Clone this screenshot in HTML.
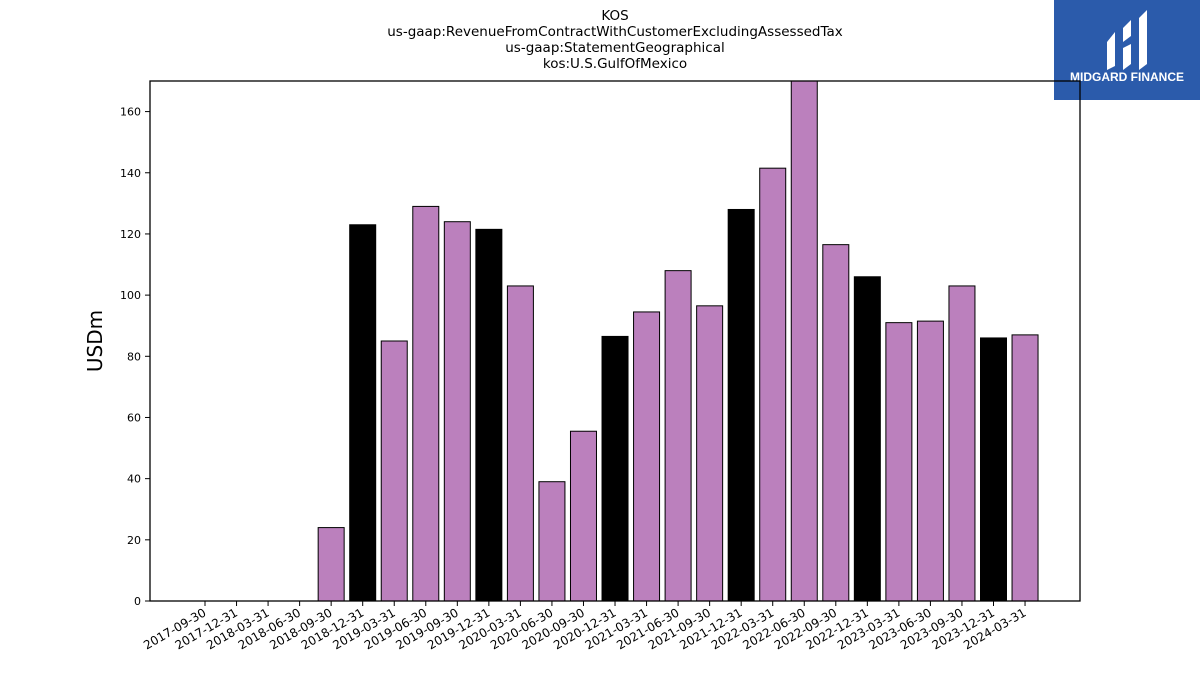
<!DOCTYPE html>
<html><head><meta charset="utf-8"><style>
body{margin:0;background:#fff;font-family:"Liberation Sans","DejaVu Sans",sans-serif;}
</style></head><body>
<svg id="chart" width="1200" height="675" xmlns="http://www.w3.org/2000/svg" font-family="DejaVu Sans, Liberation Sans, sans-serif">
<g font-size="13.5" text-anchor="middle" fill="#000">
<text x="615" y="20">KOS</text>
<text x="615" y="36">us-gaap:RevenueFromContractWithCustomerExcludingAssessedTax</text>
<text x="615" y="52">us-gaap:StatementGeographical</text>
<text x="615" y="68">kos:U.S.GulfOfMexico</text>
</g>
<g>
<rect x="1054" y="0" width="146" height="100" fill="#2b5bab"/>
<path d="M1107 42 L1115 32 L1115 66 L1107 70 Z" fill="#fff"/>
<path d="M1123 28 L1131 20 L1131 36 L1123 42 Z M1123 48 L1131 44 L1131 64 L1123 70 Z" fill="#fff"/>
<path d="M1139 18 L1147 10 L1147 64 L1139 70 Z" fill="#fff"/>
<text x="1127" y="81" font-size="12" font-weight="bold" fill="#fff" text-anchor="middle" font-family="Liberation Sans, sans-serif">MIDGARD FINANCE</text>
</g>
<g id="plot"></g>
</svg>
<script>
const categories=["2017-09-30","2017-12-31","2018-03-31","2018-06-30","2018-09-30","2018-12-31","2019-03-31","2019-06-30","2019-09-30","2019-12-31","2020-03-31","2020-06-30","2020-09-30","2020-12-31","2021-03-31","2021-06-30","2021-09-30","2021-12-31","2022-03-31","2022-06-30","2022-09-30","2022-12-31","2023-03-31","2023-06-30","2023-09-30","2023-12-31","2024-03-31"];
const values=[0,0,0,0,24,123,85,129,124,121.5,103,39,55.5,86.5,94.5,108,96.5,128,141.5,175,116.5,106,91,91.5,103,86,87];
const yTicks=[0,20,40,60,80,100,120,140,160];
const L=150,R=1080,T=81,B=601,YMAX=170;
const x0=205,step=31.54,bw=26;
const xs=i=>x0+i*step;
const ys=v=>B-(Math.min(v,YMAX)/YMAX)*(B-T);
const NS="http://www.w3.org/2000/svg";
const g=document.getElementById('plot');
function mk(t,a){const e=document.createElementNS(NS,t);for(const k in a)e.setAttribute(k,a[k]);g.appendChild(e);return e;}
categories.forEach((c,i)=>{
  const v=values[i];
  if(v>0){
    const black=c.endsWith("12-31");
    const r=mk('rect',{x:xs(i)-bw/2,y:ys(v),width:bw,height:B-ys(v),fill:black?'#000':'#bb80bd',stroke:'#000','stroke-width':1});
    
    
  }
  const tk=mk('line',{x1:xs(i),x2:xs(i),y1:B,y2:B+5,stroke:'#000'});
  
  
  const t=mk('text',{x:xs(i)+2,y:B+14,'font-size':12,'text-anchor':'end',transform:`rotate(-30 ${xs(i)+2} ${B+14})`});
  t.textContent=c;
  
  
});
yTicks.forEach(v=>{
  const tk=mk('line',{x1:L-5,x2:L,y1:ys(v),y2:ys(v),stroke:'#000'});
  
  
  const t=mk('text',{x:L-9,y:ys(v)+4,'font-size':11,'text-anchor':'end'});
  t.textContent=v;
  
  
});
const f=mk('rect',{x:L,y:T,width:R-L,height:B-T,fill:'none',stroke:'#000','stroke-width':1.3});


const yt=mk('text',{x:102,y:341,'font-size':20,'text-anchor':'middle',transform:'rotate(-90 102 341)'});
yt.textContent='USDm';


</script>
</body></html>
